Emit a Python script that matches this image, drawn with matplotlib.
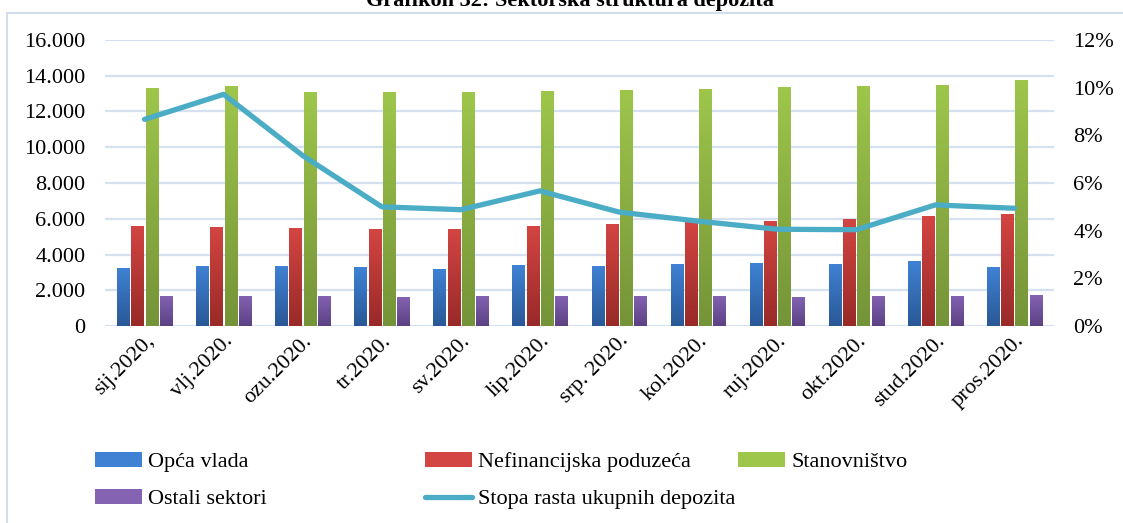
import numpy as np
import matplotlib
matplotlib.use("Agg")
import matplotlib.pyplot as plt
from matplotlib.colors import LinearSegmentedColormap
from matplotlib.patches import Rectangle
from matplotlib.lines import Line2D
import matplotlib.transforms as mtransforms

plt.rcParams['font.family'] = ['Liberation Serif', 'DejaVu Serif']

# podaci (mil. KM), ocitano s grafikona
mjeseci = ['sij.2020,', 'vlj.2020.', 'ozu.2020.', 'tr.2020.', 'sv.2020.', 'lip.2020.',
           'srp. 2020.', 'kol.2020.', 'ruj.2020.', 'okt.2020.', 'stud.2020.', 'pros.2020.']
opca_vlada = [3250, 3360, 3360, 3300, 3190, 3410, 3360, 3470, 3520, 3470, 3630, 3300]
nefin_poduzeca = [5600, 5540, 5480, 5410, 5430, 5590, 5700, 5820, 5860, 5990, 6140, 6250]
stanovnistvo = [13310, 13430, 13090, 13090, 13090, 13150, 13200, 13260, 13370, 13430, 13480, 13760]
ostali_sektori = [1680, 1680, 1680, 1620, 1680, 1680, 1680, 1680, 1620, 1680, 1680, 1730]
stopa_rasta = [8.67, 9.72, 7.15, 5.0, 4.88, 5.67, 4.78, 4.4, 4.06, 4.04, 5.08, 4.94]

serije = [
    ('Opća vlada', opca_vlada, '#3F82D4', '#2A5896'),
    ('Nefinancijska poduzeća', nefin_poduzeca, '#D34542', '#982A28'),
    ('Stanovništvo', stanovnistvo, '#9EC64B', '#759338'),
    ('Ostali sektori', ostali_sektori, '#8463B3', '#5B4183'),
]

fig = plt.figure(figsize=(11.23, 5.23), dpi=100)
ax = fig.add_axes([105 / 1123, 1 - 326 / 523, 949 / 1123, 286 / 523])
ax2 = ax.twinx()

x = np.arange(len(mjeseci))
sirina = 0.155
pomaci = [-0.27, -0.09, 0.09, 0.27]
grad = np.linspace(0, 1, 256).reshape(-1, 1)

legend_handles = []
for (ime, vrijednosti, c_top, c_bot), dx in zip(serije, pomaci):
    bars = ax.bar(x + dx, vrijednosti, sirina, color=c_top, zorder=3, linewidth=0)
    cmap = LinearSegmentedColormap.from_list(ime, [c_bot, c_top])
    for b in bars:
        bx, by = b.get_xy()
        im = ax.imshow(grad, extent=[bx, bx + b.get_width(), by, by + b.get_height()],
                       origin='lower', aspect='auto', cmap=cmap, zorder=3.5)
        im.set_clip_path(b)
    legend_handles.append(Rectangle((0, 0), 1, 1, facecolor=c_top, edgecolor='none'))

ax.set_xlim(-0.5, len(mjeseci) - 0.5)
ax.set_ylim(0, 16000)
ax.set_yticks(np.arange(0, 16001, 2000))
ax.set_yticklabels(['0' if v == 0 else f'{v // 1000}.000' for v in range(0, 16001, 2000)])
ax.grid(axis='y', color='#D5E1F0', linewidth=1.6, zorder=0)
ax.set_axisbelow(True)

ax.set_xticks(x)
ax.set_xticklabels(mjeseci, rotation=45, ha='right', va='top', rotation_mode='anchor')
pomak = mtransforms.ScaledTranslation(6 / 100, -10 / 100, fig.dpi_scale_trans)
for lbl in ax.get_xticklabels():
    lbl.set_transform(lbl.get_transform() + pomak)

linija, = ax2.plot(x, stopa_rasta, color='#4BACC6', linewidth=3.8, solid_capstyle='round',
                   solid_joinstyle='round', zorder=5)
ax2.set_ylim(0, 12)
ax2.set_yticks(np.arange(0, 13, 2))
ax2.set_yticklabels([f'{v}%' for v in range(0, 13, 2)])

for a in (ax, ax2):
    for s in a.spines.values():
        s.set_visible(False)
    a.tick_params(length=0, labelsize=16, colors='black')
ax.tick_params(axis='y', pad=14)
ax.tick_params(axis='x', pad=4)
ax2.tick_params(axis='y', pad=14)

# okvir grafikona
fig.patches.append(Rectangle((7 / 1123, -0.05), 1.1, 1 - 13 / 523 + 0.05, transform=fig.transFigure,
                             fill=False, edgecolor='#C9D7E8', linewidth=1.2))

fig.text(570 / 1123, 1 - 6 / 523, 'Grafikon 32: Sektorska struktura depozita', ha='center',
         va='baseline', fontsize=16, fontweight='bold')

# legenda u tri stupca
leg_kw = dict(frameon=False, fontsize=16, handlelength=2.1, handleheight=0.65,
              handletextpad=0.3, labelspacing=0.75, borderpad=0, borderaxespad=0, loc='upper left')
stupci = [
    ([legend_handles[0], legend_handles[3]], ['Opća vlada', 'Ostali sektori'], 95),
    ([legend_handles[1], Line2D([], [], color='#4BACC6', linewidth=3.8, solid_capstyle='round')],
     ['Nefinancijska poduzeća', 'Stopa rasta ukupnih depozita'], 425),
    ([legend_handles[2]], ['Stanovništvo'], 738),
]
for h, l, px in stupci:
    leg = fig.legend(h, l, bbox_to_anchor=(px / 1123, 1 - 452 / 523), **leg_kw)

fig.savefig('out.png', dpi=100)
